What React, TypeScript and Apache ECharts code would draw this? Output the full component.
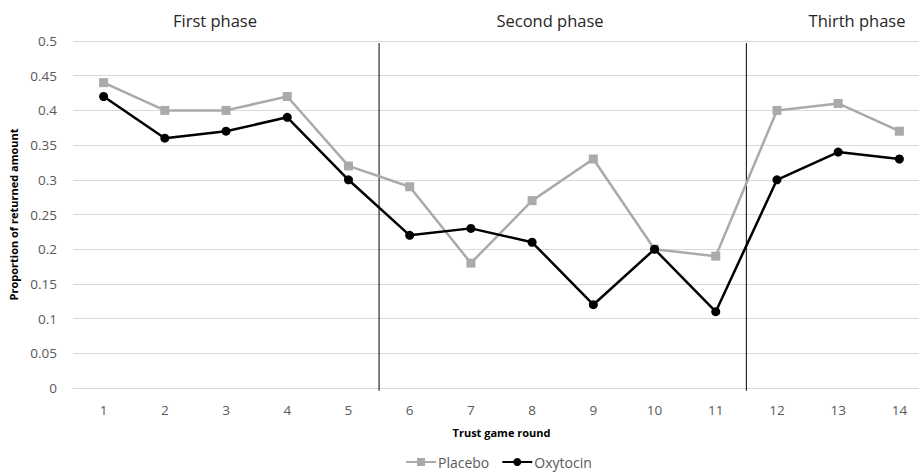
import React, { useEffect, useRef } from "react";
import * as echarts from "echarts";

const rounds = ["1", "2", "3", "4", "5", "6", "7", "8", "9", "10", "11", "12", "13", "14"];
const placebo = [0.44, 0.4, 0.4, 0.42, 0.32, 0.29, 0.18, 0.27, 0.33, 0.2, 0.19, 0.4, 0.41, 0.37];
const oxytocin = [0.42, 0.36, 0.37, 0.39, 0.3, 0.22, 0.23, 0.21, 0.12, 0.2, 0.11, 0.3, 0.34, 0.33];
const phaseBoundaries = [5.5, 11.5];
const phaseLabels = [
  { text: "First phase", x: 215 },
  { text: "Second phase", x: 550 },
  { text: "Thirth phase", x: 857 },
];

const FONT = "'Open Sans', 'Noto Sans', sans-serif";

export default function App() {
  const ref = useRef<HTMLDivElement>(null);
  useEffect(() => {
    document.body.style.margin = "0";
    if (!ref.current) return;
    const chart = echarts.init(ref.current, undefined, { renderer: "svg" });
    chart.setOption({
      animation: false,
      backgroundColor: "#ffffff",
      textStyle: { fontFamily: FONT },
      grid: { left: 73, top: 41, width: 857, height: 347, containLabel: false },
      legend: {
        top: 455,
        left: 405,
        padding: 0,
        itemWidth: 30,
        itemHeight: 10,
        itemGap: 12,
        textStyle: { fontSize: 14, color: "#595959", fontFamily: FONT, padding: [0, 0, 0, -3] },
        data: ["Placebo", "Oxytocin"],
      },
      graphic: phaseLabels.map((p) => ({
        type: "text",
        x: p.x,
        y: 20,
        style: {
          text: p.text,
          fill: "#262626",
          font: `16.5px ${FONT}`,
          textAlign: "center",
          textVerticalAlign: "middle",
        },
      })),
      xAxis: [
        {
          type: "category",
          data: rounds,
          boundaryGap: true,
          axisLine: { show: true, lineStyle: { color: "#d9d9d9" } },
          axisTick: { show: false },
          axisLabel: { color: "#595959", fontSize: 13.5, margin: 15, fontFamily: FONT },
          name: "Trust game round",
          nameLocation: "middle",
          nameGap: 39,
          nameTextStyle: { fontWeight: "bold", fontSize: 11, color: "#000000", fontFamily: FONT },
        },
        {
          type: "value",
          min: 0.5,
          max: 14.5,
          show: false,
        },
      ],
      yAxis: {
        type: "value",
        min: 0,
        max: 0.5,
        interval: 0.05,
        axisLine: { show: false },
        axisTick: { show: false },
        splitLine: { lineStyle: { color: "#d9d9d9", width: 1 } },
        axisLabel: {
          color: "#595959",
          fontSize: 13.5,
          margin: 16,
          fontFamily: FONT,
          formatter: (v: number) => String(Math.round(v * 100) / 100),
        },
        name: "Proportion of returned amount",
        nameLocation: "middle",
        nameGap: 47,
        nameTextStyle: { fontWeight: "bold", fontSize: 11, color: "#000000", fontFamily: FONT },
      },
      series: [
        ...phaseBoundaries.map((b) => ({
          type: "line",
          xAxisIndex: 1,
          data: [
            [b, -0.004],
            [b, 0.497],
          ],
          symbol: "none",
          clip: false,
          silent: true,
          lineStyle: { color: "#000000", width: 1 },
          z: 1,
        })),
        {
          name: "Placebo",
          type: "line",
          data: placebo,
          symbol: "rect",
          symbolSize: 9,
          itemStyle: { color: "#aaaaaa" },
          lineStyle: { color: "#aaaaaa", width: 2.5 },
          z: 3,
        },
        {
          name: "Oxytocin",
          type: "line",
          data: oxytocin,
          symbol: "circle",
          symbolSize: 9,
          itemStyle: { color: "#000000" },
          lineStyle: { color: "#000000", width: 2.5 },
          z: 4,
        },
      ],
    });
    return () => chart.dispose();
  }, []);
  return (
    <div style={{ width: 919, height: 472, overflow: "hidden", position: "relative" }}>
      <div ref={ref} style={{ width: 940, height: 472 }} />
    </div>
  );
}
